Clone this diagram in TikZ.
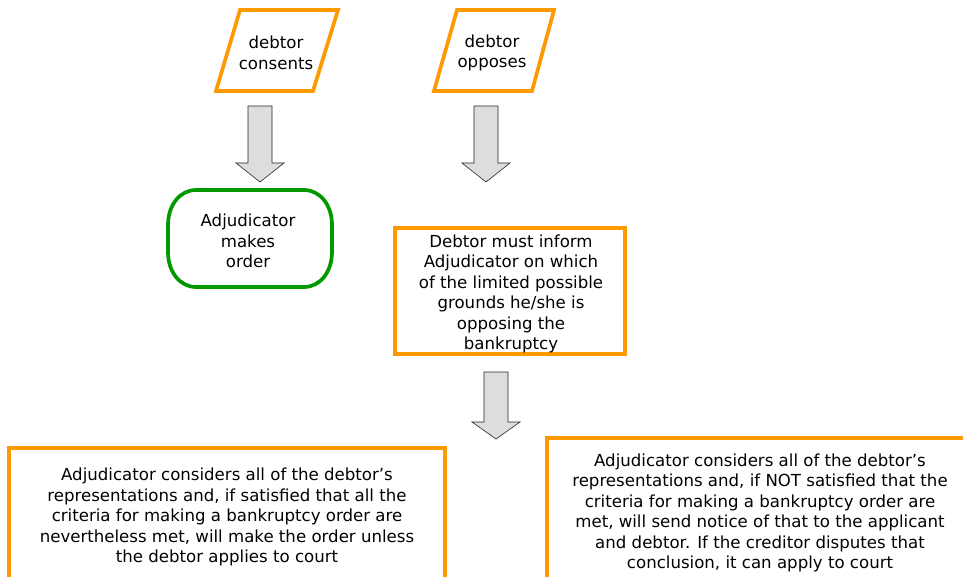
\documentclass[tikz,border=0pt]{standalone}
\usepackage{fontspec}
\setmainfont{DejaVu Sans}
\definecolor{boxorange}{RGB}{255,153,0}
\definecolor{endgreen}{RGB}{0,153,0}
\definecolor{arrowgray}{RGB}{221,221,221}
\tikzset{
  label/.style={inner sep=0pt, align=center, font=\fontsize{16.6}{20.5}\selectfont},
  orangeline/.style={draw=boxorange, line width=3.7pt, line join=miter},
  greenline/.style={draw=endgreen, line width=3.7pt},
  arrowbody/.style={draw=black!85, fill=arrowgray, line width=0.6pt},
  pics/downarrow/.style 2 args={code={
    \draw[arrowbody] (-12,0) -- (-12,#2) -- (-24,#2) -- (0,#1) -- (24,#2) -- (12,#2) -- (12,0) -- cycle;
  }}
}
\begin{document}
\begin{tikzpicture}[x=1pt, y=-1pt]
\useasboundingbox (0,0) rectangle (963,576);
\clip (0,0) rectangle (963,576);
\fill[white] (0,0) rectangle (963,576);

% input parallelograms
\draw[orangeline] (240,10) -- (338,10) -- (313,91) -- (216,91) -- cycle;
\node[label] (consents) at (276,53) {debtor\\consents};
\draw[orangeline] (457,10) -- (554,10) -- (532,91) -- (434,91) -- cycle;
\node[label] (opposes) at (492,53) {debtor\\opposes};

% block arrows
\pic at (260,106) {downarrow={76}{57}};
\pic at (486,106) {downarrow={76}{57}};
\pic at (496,372) {downarrow={67}{50}};

% terminal: order made (rectangle with rounded, bulging ends)
\draw[greenline] (196,190) -- (304,190)
  .. controls (320,190) and (332,205) .. (332,225)
  -- (332,252)
  .. controls (332,272) and (320,287) .. (304,287)
  -- (196,287)
  .. controls (180,287) and (168,272) .. (168,252)
  -- (168,225)
  .. controls (168,205) and (180,190) .. (196,190) -- cycle;
\node[label] (order) at (248,241) {Adjudicator\\makes\\order};

% debtor informs the adjudicator
\draw[orangeline] (395,228) rectangle (625,354);
\node[label] (inform) at (511,294) {Debtor must inform\\Adjudicator on which\\of the limited possible\\grounds he/she is\\opposing the\\bankruptcy};

% outcomes
\draw[orangeline] (9,448) rectangle (445,600);
\node[label] (satisfied) at (227,517) {Adjudicator considers all of the debtor’s\\representations and, if satisfied that all the\\criteria for making a bankruptcy order are\\nevertheless met, will make the order unless\\the debtor applies to court};
\draw[orangeline] (547,438) rectangle (975,600);
\node[label] (notsatisfied) at (760,513) {Adjudicator considers all of the debtor’s\\representations and, if NOT satisfied that the\\criteria for making a bankruptcy order are\\met, will send notice of that to the applicant\\and debtor. If the creditor disputes that\\conclusion, it can apply to court};
\end{tikzpicture}
\end{document}
